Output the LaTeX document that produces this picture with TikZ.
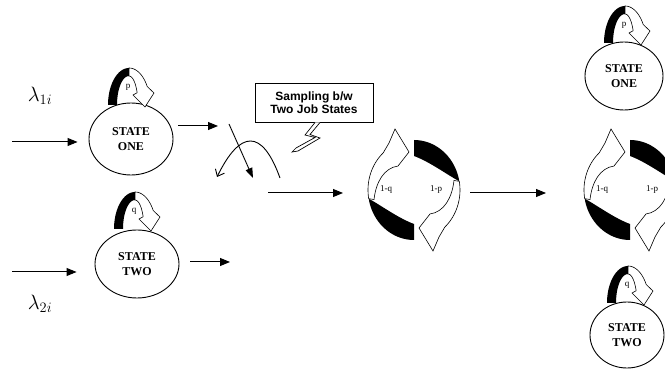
\documentclass[tikz,border=0pt]{standalone}
\usepackage{fontspec}
\setmainfont{Liberation Serif}
\newfontfamily\boxfont{Liberation Sans}
\usetikzlibrary{arrows.meta,shapes.geometric}
\tikzset{
  flow/.style={line width=1pt,-{Triangle[length=10pt,width=8pt]}},
  state/.style={ellipse,draw,line width=0.9pt,minimum width=84pt,minimum height=72pt,inner sep=0pt,align=center,font=\fontsize{12}{15}\selectfont\bfseries},
  small/.style={font=\fontsize{9}{10}\selectfont,inner sep=0pt},
  lam/.style={font=\fontsize{20}{22}\selectfont,inner sep=0pt},
  selfloop/.pic={
    \fill plot[domain=180:270,samples=20] ({21*cos(\x)},{37*sin(\x)})
      -- plot[domain=270:180,samples=20] ({12*cos(\x)},{29*sin(\x)}) -- cycle;
    \filldraw[fill=white,line width=0.6pt] plot[domain=270:330,samples=15] ({21*cos(\x)},{37*sin(\x)})
      -- (25,-12) -- (16,2) -- (4,-10)
      -- plot[domain=335:270,samples=15] ({9*cos(\x)},{29*sin(\x)}) -- cycle;
    \node[small] (lbl) at (-1,-18) {#1};
  },
  recyc/.pic={
    \foreach \rr in {0,180}{
      \begin{scope}[rotate=\rr]
        \fill plot[domain=90:170,samples=25] ({46*cos(\x)},{50*sin(\x)})
          .. controls (-32,16) and (-16,28) .. (0,34) -- cycle;
        \filldraw[fill=white,line width=0.6pt] plot[domain=170:228,samples=20] ({46*cos(\x)},{50*sin(\x)})
          -- (-25,-47) -- (-19,-61) -- (-5,-38) -- (-16,-24)
          .. controls (-30,-22) and (-38,-8) .. (-40,9.5) -- cycle;
      \end{scope}
    }
    \node[small] (lq) at (-28,-1) {1-q};
    \node[small] (lp) at (22,-1) {1-p};
  }
}
\begin{document}
\begin{tikzpicture}[x=1pt,y=-1pt]
\fill[white] (0,0) rectangle (665,371);
\useasboundingbox (0,0) rectangle (665,371);
\clip (0,0) rectangle (665,371);

% states
\node[state] (s1) at (131,139) {STATE\\ONE};
\node[state,minimum height=68pt] (s2) at (137,264) {STATE\\TWO};
\node[state,minimum width=78pt,minimum height=68pt] (r1) at (624,76) {STATE\\ONE};
\node[state,minimum width=74pt,minimum height=66pt] (r2) at (627,335) {STATE\\TWO};

% self loops
\pic (l1) at (129,105) {selfloop=p};
\pic (l2) at (135,229) {selfloop=q};
\pic (l3) at (625,43) {selfloop=p};
\pic (l4) at (628,303) {selfloop=q};

% arrival rates
\node[lam] (lam1) at (40,96) {$\lambda_{1i}$};
\node[lam] (lam2) at (40,304) {$\lambda_{2i}$};

% inputs
\coordinate (in1) at (12,142);
\coordinate (in2) at (12,272);
\draw[flow,shorten >=11pt] (in1) -- (in1 -| s1.west);
\draw[flow,shorten >=18pt] (in2) -- (in2 -| s2.west);

% outputs of states
\coordinate (o1) at (218,126);
\coordinate (o2) at (230,262);
\draw[flow,shorten <=5pt] (o1 -| s1.east) -- (o1);
\draw[flow,shorten <=11pt] (o2 -| s2.east) -- (o2);

% crossing
\coordinate (x1) at (229,124);
\coordinate (x2) at (253,178);
\draw[line width=0.9pt,-{Triangle[length=10pt,width=7pt]}] (x1) -- (x2);
\coordinate (c1) at (280,178);
\coordinate (c2) at (217,177);
\draw[line width=0.9pt,-{Straight Barb[length=6pt,width=10pt]}] (c1) .. controls (262,128) and (240,130) .. (c2);

% callout box
\node[draw,line width=0.9pt,minimum width=118pt,minimum height=39pt,align=center,inner sep=1pt,
  font=\boxfont\fontsize{12}{13.5}\selectfont\bfseries] (box) at (314,102.5) {Sampling b/w\\Two Job States};
\filldraw[fill=white,line width=0.7pt] (315,122.5) -- (305,135) -- (315,137.5) -- (296,148) -- (292,152)
  -- (298,151) -- (320,138) -- (310,134.5) -- (320,122.5);

% to first recycle
\coordinate (m1) at (268,193);
\coordinate (m2) at (343,193);
\draw[flow] (m1) -- (m2);
\pic (rc1) at (414,190) {recyc};

% to second recycle
\coordinate (n1) at (470,193);
\coordinate (n2) at (546,193);
\draw[flow] (n1) -- (n2);
\pic (rc2) at (630,190) {recyc};
\end{tikzpicture}
\end{document}
